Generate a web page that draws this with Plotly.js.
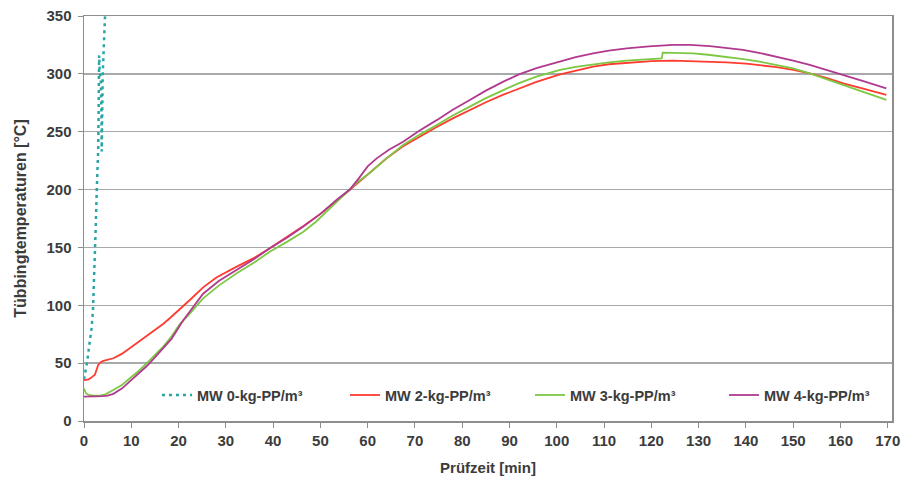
<!DOCTYPE html>
<html>
<head>
<meta charset="utf-8">
<script src="https://cdn.plot.ly/plotly-3.0.1.min.js"></script>
<style>html,body{margin:0;padding:0;background:#fff}#chart{width:906px;height:482px}</style>
</head>
<body>
<div id="chart"></div>
<script>
// Series names
const seriesNames = ["MW 0-kg-PP/m³", "MW 2-kg-PP/m³", "MW 3-kg-PP/m³", "MW 4-kg-PP/m³"];

// MW 0 (dotted teal)
const mw0X = [0, 0.3, 0.7, 1.1, 1.6, 1.9, 2.1, 2.3, 2.5, 2.7, 2.9, 3.0, 3.1, 3.2, 3.35, 3.55, 3.7, 3.75, 3.85, 3.95, 4.2, 4.5];
const mw0Y = [36, 42, 52, 65, 80, 95, 115, 140, 170, 200, 222, 234, 270, 316, 300, 296, 260, 233, 265, 298, 325, 355];

// MW 2 (red)
const mw2X = [0, 1, 1.6, 2.3, 3.0, 3.6, 4.1, 5, 6.2, 8, 9.7, 11.5, 13.3, 15, 16.8, 18.2, 20, 21.2, 22.5, 25.2, 28, 32.3, 36, 39.3, 43, 46.4, 50, 53.4, 56.2, 58, 60.5, 64, 67.5, 71, 74.6, 78, 81.6, 85, 88.7, 92, 95.7, 100.7, 104, 107.7, 111, 114.8, 120, 124.6, 130, 135.9, 140, 142.9, 146.5, 150, 153.5, 157, 160.6, 165, 169.7];
const mw2Y = [35.4, 36, 37.7, 40, 48.4, 51, 51.9, 53, 54.2, 58, 63, 68, 73.5, 78.5, 84, 89, 95.5, 100, 105, 115.5, 124, 133.4, 141, 149.3, 159, 168.5, 179, 190, 199.5, 206, 215, 227, 237.5, 246, 254, 261.5, 268.8, 275.5, 282, 287.5, 293, 299.6, 303, 306.3, 308.3, 309.7, 311, 311.4, 311, 310, 308.8, 307.7, 305.8, 303.4, 300.5, 296.5, 291.8, 287, 281.8];

// MW 3 (green)
const mw3X = [0, 0.4, 1, 2, 3.4, 4.5, 6.2, 8, 9.7, 11.5, 13.3, 15, 16.8, 18.5, 20.3, 22, 23.8, 25.2, 28.5, 32.3, 36, 39.3, 43, 46.4, 49, 52, 54, 56.2, 58, 60.5, 64, 67.5, 71, 74.6, 78, 81.6, 85, 88.7, 92, 95.7, 100.7, 104, 107.7, 111, 114.8, 118.5, 122.2, 122.4, 125.5, 128.8, 132, 135.9, 139.5, 142.9, 146.5, 150, 153.5, 157, 160.6, 165, 169.7];
const mw3Y = [28, 24, 22.5, 22, 22, 23, 26.8, 31, 36.9, 43, 50, 57, 64.5, 73, 84, 91, 99, 106, 117, 127.6, 137, 146.3, 155, 163.6, 172, 183.8, 191, 200, 207, 214.5, 227, 238.5, 247.5, 255.8, 264, 271.7, 279, 286, 292, 297.6, 303.4, 306, 308.3, 310, 311.4, 312.5, 313.4, 318.3, 318.2, 317.7, 316.5, 314.9, 312.8, 310.5, 307.8, 304.8, 300.5, 295.5, 290.4, 284.5, 277.5];

// MW 4 (magenta)
const mw4X = [0, 1, 2, 3, 4, 5, 6.2, 8, 9.7, 11.5, 13.3, 15, 16.8, 18.5, 21, 23, 25.2, 28.5, 32.3, 36, 39.3, 43, 46.4, 50, 53.4, 56.2, 58, 60, 61.9, 64.5, 67.5, 71, 74.6, 78, 81.6, 85, 88.7, 92, 95.7, 100.7, 104, 107.7, 111, 114.8, 119.5, 124.6, 128.1, 132.4, 136, 139.4, 143, 146.5, 150, 153.5, 157, 160.6, 165, 169.7];
const mw4Y = [21, 21, 21, 21, 21.5, 22, 23.5, 28, 34, 40.5, 47.5, 55, 63, 71, 87, 98, 110, 121, 130.5, 140, 149.3, 158.5, 168, 179, 191, 200, 209, 220, 227, 234.5, 241.4, 251, 260, 269, 277.4, 285.5, 293.3, 299.5, 305, 310.5, 314.5, 317.7, 320, 322, 323.8, 325, 325, 324, 322.5, 320.7, 318, 314.9, 311.5, 307.7, 303.5, 299, 293.5, 287.5];

// Ticks
const xTicks = [0, 10, 20, 30, 40, 50, 60, 70, 80, 90, 100, 110, 120, 130, 140, 150, 160, 170];
const yTicks = [0, 50, 100, 150, 200, 250, 300, 350];

const fontFam = "Liberation Sans, Arial, sans-serif";
const textColor = "#3c3c3c";

const traces = [
  {x: mw0X, y: mw0Y, name: seriesNames[0], legend: "legend", mode: "lines", line: {color: "#2aa5a5", width: 2.5, dash: "3px,4px"}},
  {x: mw2X, y: mw2Y, name: seriesNames[1], legend: "legend2", mode: "lines", line: {color: "#ff3b2f", width: 1.8}},
  {x: mw3X, y: mw3Y, name: seriesNames[2], legend: "legend3", mode: "lines", line: {color: "#7cc843", width: 1.8}},
  {x: mw4X, y: mw4Y, name: seriesNames[3], legend: "legend4", mode: "lines", line: {color: "#b13a8e", width: 1.8}}
];

function leg(x) {
  return {
    orientation: "h", x: x, y: 0.064, xanchor: "left", yanchor: "middle",
    bgcolor: "rgba(0,0,0,0)",
    font: {family: fontFam, size: 14.5, color: textColor, weight: 700}
  };
}

const layout = {
  width: 906, height: 482,
  margin: {l: 84, r: 14, t: 16, b: 61},
  paper_bgcolor: "#fff", plot_bgcolor: "#fff",
  font: {family: fontFam, size: 14, color: textColor, weight: 700},
  showlegend: true,
  legend: leg(0.0903),
  legend2: leg(0.3230),
  legend3: leg(0.5520),
  legend4: leg(0.7921),
  xaxis: {
    range: [0, 170.9], tickvals: xTicks, ticktext: xTicks.map(String),
    ticks: "outside", ticklen: 5, tickcolor: "#8e8e8e", tickwidth: 1,
    showline: true, linecolor: "#8e8e8e", linewidth: 1.5, mirror: true,
    showgrid: false, zeroline: false,
    tickfont: {family: fontFam, size: 15, color: textColor, weight: 700},
    title: {text: "Prüfzeit [min]", font: {family: fontFam, size: 15, color: textColor, weight: 700}, standoff: 15}
  },
  yaxis: {
    range: [0, 350], tickvals: yTicks, ticktext: yTicks.map(String),
    ticks: "outside", ticklen: 5, tickcolor: "#8e8e8e", tickwidth: 1,
    showline: true, linecolor: "#8e8e8e", linewidth: 1.5, mirror: true,
    showgrid: true, gridcolor: "#a6aaaa", gridwidth: 1.5, zeroline: false,
    ticklabelstandoff: 3,
    tickfont: {family: fontFam, size: 15, color: textColor, weight: 700},
    title: {text: "Tübbingtemperaturen [°C]", font: {family: fontFam, size: 16, color: textColor, weight: 700}, standoff: 16}
  }
};

Plotly.newPlot("chart", traces, layout, {displayModeBar: false, staticPlot: true});
</script>
</body>
</html>
